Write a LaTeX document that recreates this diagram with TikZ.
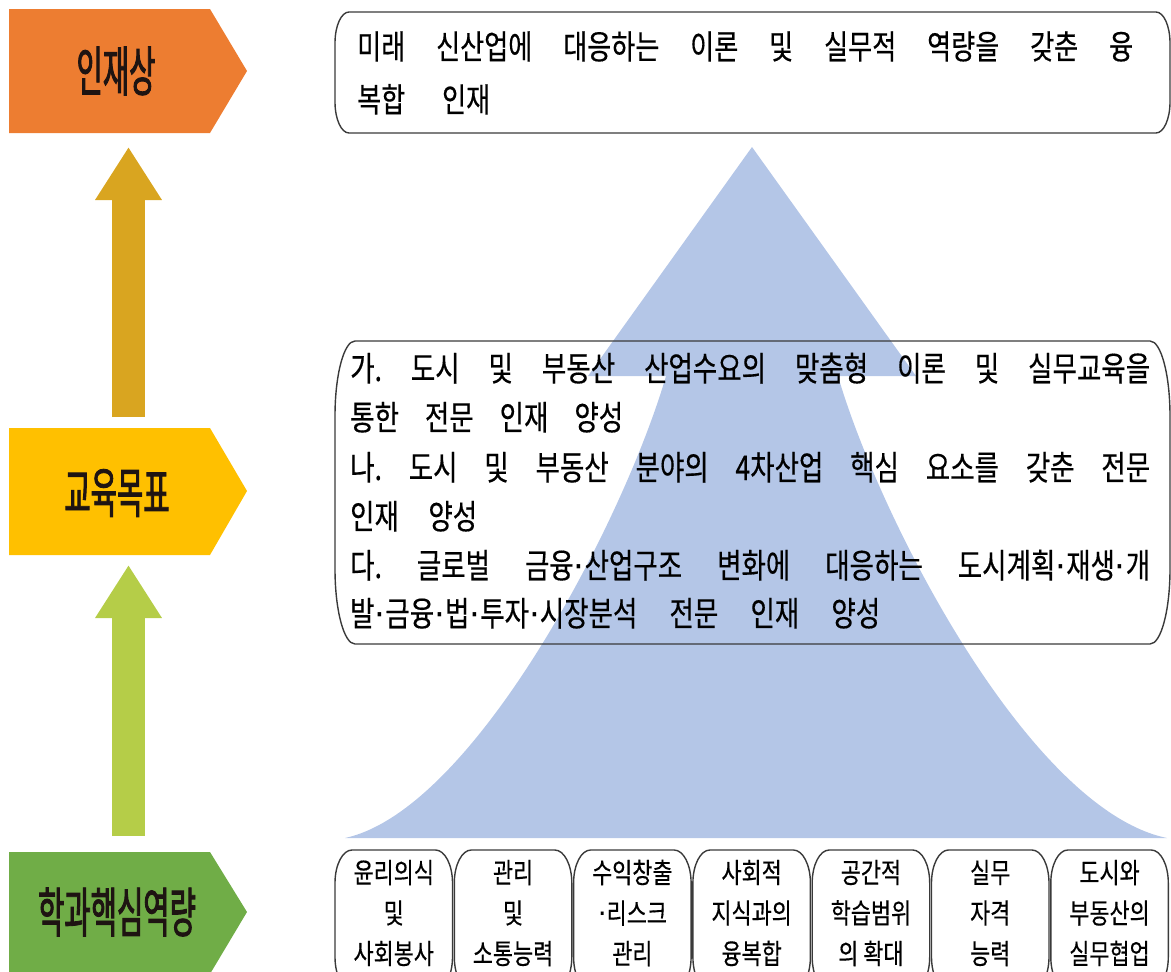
\documentclass[tikz,border=0pt]{standalone}
\usepackage{fontspec}
\setmainfont{Noto Sans CJK KR}
\newfontfamily\krfont[FakeStretch=0.78,FakeBold=0.4]{Noto Sans CJK KR}
\newfontfamily\krlabel[FakeStretch=0.53,FakeBold=1.6]{Noto Sans CJK KR}
\newfontfamily\dotfont{DejaVu Sans}
\newcommand\md{{\dotfont\char"00B7}}
\usetikzlibrary{arrows.meta}
\definecolor{pyr}{HTML}{B4C6E7}
\definecolor{orangeL}{HTML}{ED7D31}
\definecolor{yellowL}{HTML}{FFC000}
\definecolor{greenL}{HTML}{70AD47}
\definecolor{goldA}{HTML}{D9A520}
\definecolor{limeA}{HTML}{B5CD48}
\definecolor{edgeC}{HTML}{3A3A3A}
\definecolor{labtext}{HTML}{1E1412}
\frenchspacing
\newcommand\brk[3]{%
 \draw[edgeC,line width=1.4pt] ([xshift=#2]#1.north west) -- ([xshift=-#2]#1.north east)
   .. controls +(0.552*#2,0pt) and +(0pt,0.552*#3) .. ([yshift=-#3]#1.north east)
   -- ([yshift=#3]#1.south east)
   .. controls +(0pt,-0.552*#3) and +(0.552*#2,0pt) .. ([xshift=-#2]#1.south east)
   -- ([xshift=#2]#1.south west)
   .. controls +(-0.552*#2,0pt) and +(0pt,-0.552*#3) .. ([yshift=#3]#1.south west)
   -- ([yshift=-#3]#1.north west)
   .. controls +(0pt,0.552*#3) and +(-0.552*#2,0pt) .. ([xshift=#2]#1.north west) -- cycle;}
\begin{document}
\begin{tikzpicture}[x=1pt,y=-1pt,
  boxnode/.style={inner sep=0pt,outer sep=0pt},
  labnode/.style={inner sep=0pt,font=\krlabel\fontsize{54}{54}\selectfont,text=labtext},
  txtline/.style={inner sep=0pt,anchor=base west,font=\krfont\fontsize{34}{34}\selectfont\frenchspacing},
  toptxt/.style={inner sep=0pt,anchor=base west,font=\krfont\fontsize{33.5}{34}\selectfont\frenchspacing},
  cellnode/.style={inner sep=0pt,outer sep=0pt,minimum width=117.5pt,minimum height=140pt,anchor=north west},
  celltxt/.style={inner sep=0pt,align=center,font=\krfont\fontsize{28}{40.5}\selectfont},
  uparrow/.style={line width=33pt,-{Triangle[width=63pt,length=53pt]}}]
\useasboundingbox (0,0) rectangle (1171,972);
\clip (0,0) rectangle (1171,972);

% pyramid
\fill[pyr] (752,147) -- (916,376) -- (838,376)
  .. controls (880,520) and (1030,810) .. (1167,838)
  -- (345,838)
  .. controls (474,810) and (624,520) .. (666,376)
  -- (588,376) -- cycle;

% left pentagon labels
\fill[orangeL] (9,9) -- (210,9) -- (247,71) -- (210,133) -- (9,133) -- cycle;
\fill[yellowL] (9,428) -- (210,428) -- (247,491) -- (210,555) -- (9,555) -- cycle;
\fill[greenL] (9,852) -- (210,852) -- (247,912) -- (210,974) -- (9,974) -- cycle;
\node[labnode] (talent) at (116,71) {인재상};
\node[labnode] (goal) at (117,493) {교육목표};
\node[labnode] (core) at (117,912) {학과핵심역량};

% arrows
\coordinate (gA) at (128.5,417);
\coordinate (gB) at (128.5,147);
\coordinate (lA) at (128.5,836);
\coordinate (lB) at (128.5,565);
\draw[uparrow,goldA] (gA) -- (gB);
\draw[uparrow,limeA] (lA) -- (lB);

% top box
\node[boxnode,minimum width=835pt,minimum height=121pt,anchor=north west] (ideal) at (335,12) {};
\brk{ideal}{14pt}{31pt}
\node[toptxt] (i1) at (357,59) {\makebox[776pt][s]{미래 신산업에 대응하는 이론 및 실무적 역량을 갖춘 융}};
\node[toptxt] (i2) at (357,112) {\makebox[133pt][s]{복합 인재}};

% middle box
\node[boxnode,minimum width=835pt,minimum height=303pt,anchor=north west] (aims) at (335,341) {};
\brk{aims}{20pt}{75pt}
\node[txtline] (m1) at (350,381) {\makebox[800pt][s]{가. 도시 및 부동산 산업수요의 맞춤형 이론 및 실무교육을}};
\node[txtline] (m2) at (350,430) {\makebox[273pt][s]{통한 전문 인재 양성}};
\node[txtline] (m3) at (350,480) {\makebox[800pt][s]{나. 도시 및 부동산 분야의 4차산업 핵심 요소를 갖춘 전문}};
\node[txtline] (m4) at (350,529) {\makebox[127pt][s]{인재 양성}};
\node[txtline] (m5) at (350,578) {\makebox[800pt][s]{다. 글로벌 금융\md 산업구조 변화에 대응하는 도시계획\md 재생\md 개}};
\node[txtline] (m6) at (350,626) {\makebox[530pt][s]{발\md 금융\md 법\md 투자\md 시장분석 전문 인재 양성}};

% bottom cells
\foreach \i/\a/\b/\c in {0/윤리의식/및/사회봉사,1/관리/및/소통능력,2/수익창출/\md 리스크/관리,3/사회적/지식과의/융복합,4/공간적/학습범위/의 확대,5/실무/자격/능력,6/도시와/부동산의/실무협업}{
  \node[cellnode] (c\i) at ({335+\i*119.3},850) {};
  \brk{c\i}{17pt}{33pt}
  \node[celltxt] (t\i) at ([yshift=-63pt]c\i.north) {\a\\\b\\\c};
}
\end{tikzpicture}
\end{document}
